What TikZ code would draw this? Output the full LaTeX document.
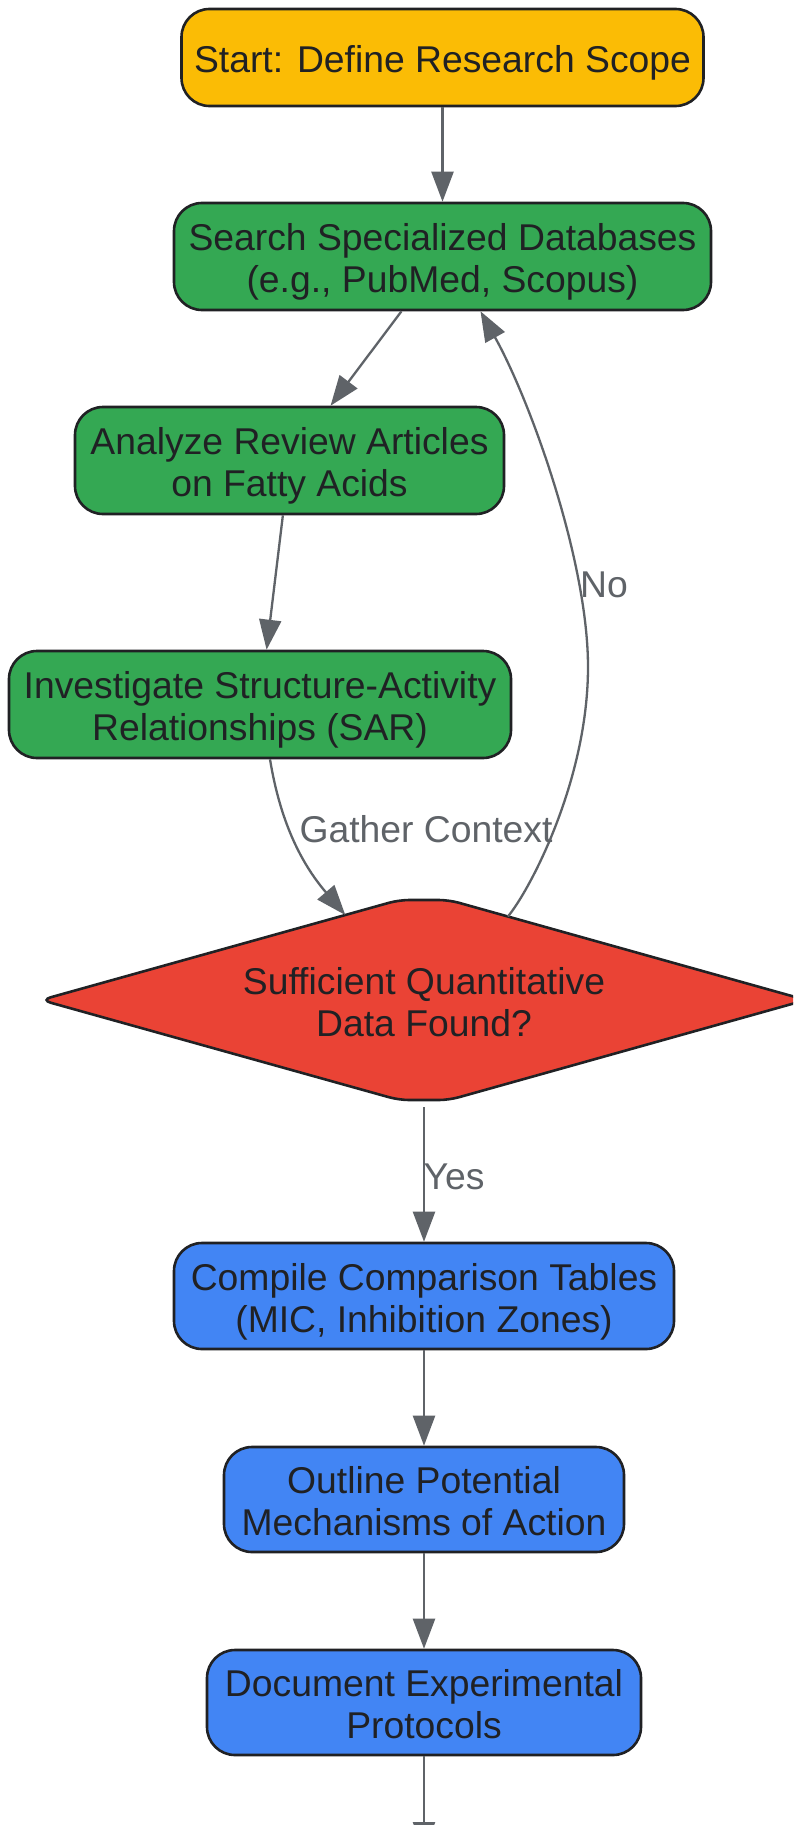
\documentclass[tikz,border=0pt]{standalone}
\usepackage{fontspec}
\setmainfont{Liberation Sans}
\usetikzlibrary{arrows.meta,calc}
\definecolor{cyellow}{HTML}{FBBC05}
\definecolor{cgreen}{HTML}{34A853}
\definecolor{cred}{HTML}{EA4335}
\definecolor{cblue}{HTML}{4285F4}
\definecolor{ctext}{HTML}{202124}
\definecolor{cline}{HTML}{5F6368}
\newcommand\topstrut{\rule{0pt}{38pt}}
\newcommand\botstrut{\rule[-8pt]{0pt}{8pt}}
\begin{document}
\begin{tikzpicture}[x=1pt,y=-1pt,
  box/.style={draw=ctext, line width=2.6pt, rounded corners=28pt, align=center,
    inner sep=0pt, text=ctext, font=\fontsize{37.3}{42}\selectfont},
  conn/.style={draw=cline, line width=2.3pt, -{Triangle[length=30pt,width=22pt]}},
  lbl/.style={text=cline, font=\fontsize{37.3}{42}\selectfont, inner sep=0pt}]
\useasboundingbox (0,0) rectangle (793,1825);
\fill[white] (0,0) rectangle (793,1825);
\clip (0,0) rectangle (793,1825);

% nodes
\node[box, fill=cyellow, minimum width=522pt, minimum height=97pt] (start) at (442.5,57.5)
  {\topstrut Start: Define Research Scope\botstrut};
\node[box, fill=cgreen, minimum width=537pt, minimum height=107pt] (search) at (442.5,256.5)
  {\topstrut Search Specialized Databases\\(e.g., PubMed, Scopus)\botstrut};
\node[box, fill=cgreen, minimum width=429pt, minimum height=107pt] (analyze) at (289.5,460.5)
  {\topstrut Analyze Review Articles\\on Fatty Acids\botstrut};
\node[box, fill=cgreen, minimum width=502pt, minimum height=107pt] (inv) at (260,704.5)
  {\topstrut Investigate Structure-Activity\\Relationships (SAR)\botstrut};

% decision diamond
\coordinate (dL) at (41,1000);
\coordinate (dTL) at (399,900);
\coordinate (dTR) at (449,900);
\coordinate (dR) at (806,1000);
\coordinate (dBR) at (449,1100);
\coordinate (dBL) at (399,1100);
\coordinate (dB) at (424,1100);
\draw[draw=ctext, line width=2.6pt, fill=cred, rounded corners=10pt]
  (dL) -- (dTL) -- (dTR) -- (dR) -- (dBR) -- (dBL) -- cycle;
\node[align=center, inner sep=0pt, text=ctext, font=\fontsize{37.3}{42}\selectfont] (dtext) at (424,1000)
  {\topstrut Sufficient Quantitative\\Data Found?\botstrut};
\coordinate (dNo) at ($(dTR)!0.165!(dR)$);
\coordinate (dGC) at ($(dTL)!0.15!(dL)$);

\node[box, fill=cblue, minimum width=500pt, minimum height=106pt] (compile) at (424,1296)
  {\topstrut Compile Comparison Tables\\(MIC, Inhibition Zones)\botstrut};
\node[box, fill=cblue, minimum width=400pt, minimum height=105pt] (outline) at (424,1499.5)
  {\topstrut Outline Potential\\Mechanisms of Action\botstrut};
\node[box, fill=cblue, minimum width=434pt, minimum height=105pt] (doc) at (424,1702.5)
  {\topstrut Document Experimental\\Protocols\botstrut};
\coordinate (next) at (424,1852);

% connectors
\draw[conn] (start) -- (search);
\draw[conn] (search) -- (analyze);
\draw[conn] (analyze) -- (inv);
\draw[conn] ([xshift=10pt]inv.south) .. controls (280,820) and (300,862) .. (dGC);
\draw[conn] (dNo) .. controls (530,890) and (588,780) .. (588,667)
  .. controls (588,560) and (530,400) .. ([xshift=38pt]search.south);
\draw[conn] ([yshift=-7pt]dB) -- (compile);
\draw[conn] (compile) -- (outline);
\draw[conn] (outline) -- (doc);
\draw[conn] (doc) -- (next);

% labels
\node[lbl] (lgc) at (426,829) {Gather Context};
\node[lbl] (lno) at (604,584.6) {No};
\node[lbl] (lyes) at (454,1177) {Yes};
\end{tikzpicture}
\end{document}
